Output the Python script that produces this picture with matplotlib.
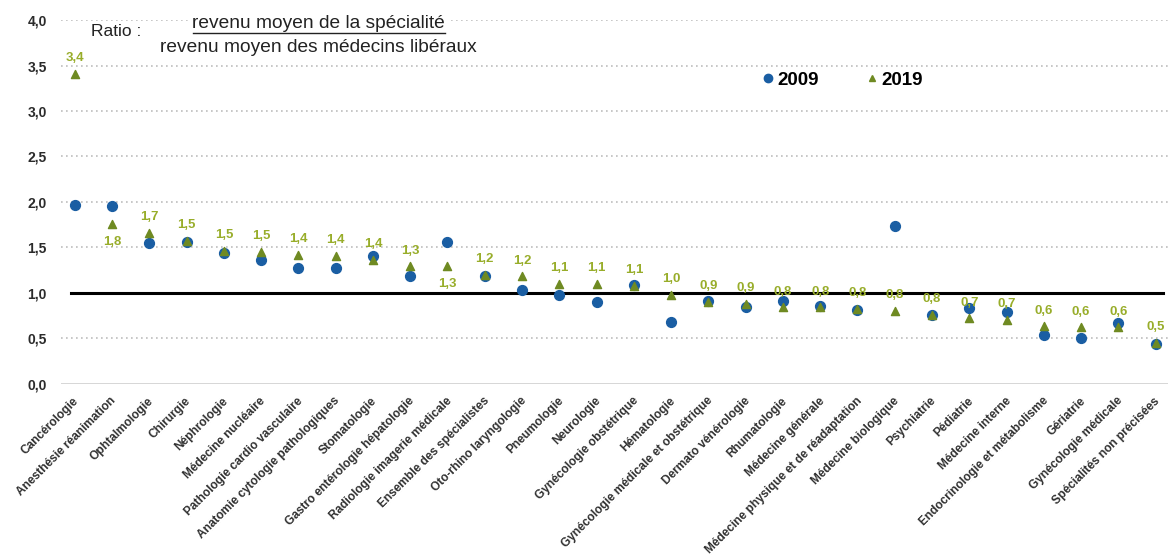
import matplotlib.pyplot as plt
import numpy as np
from matplotlib.lines import Line2D

plt.rcParams["font.family"] = ["Liberation Sans", "DejaVu Sans"]

specialites = [
    "Cancérologie", "Anesthésie réanimation", "Ophtalmologie", "Chirurgie",
    "Néphrologie", "Médecine nucléaire", "Pathologie cardio vasculaire",
    "Anatomie cytologie pathologiques", "Stomatologie",
    "Gastro entérologie hépatologie", "Radiologie imagerie médicale",
    "Ensemble des spécialistes", "Oto-rhino laryngologie", "Pneumologie",
    "Neurologie", "Gynécologie obstétrique", "Hématologie",
    "Gynécologie médicale et obstétrique", "Dermato vénérologie",
    "Rhumatologie", "Médecine générale",
    "Médecine physique et de réadaptation", "Médecine biologique",
    "Psychiatrie", "Pédiatrie", "Médecine interne",
    "Endocrinologie et métabolisme", "Gériatrie", "Gynécologie médicale",
    "Spécialités non précisées",
]
ratio_2009 = [1.97, 1.95, 1.55, 1.56, 1.44, 1.36, 1.27, 1.27, 1.40, 1.19,
              1.56, 1.19, 1.03, 0.98, 0.90, 1.09, 0.68, 0.91, 0.84, 0.91,
              0.85, 0.81, 1.74, 0.76, 0.83, 0.79, 0.54, 0.50, 0.67, 0.44]
ratio_2019 = [3.41, 1.76, 1.66, 1.57, 1.46, 1.45, 1.42, 1.41, 1.36, 1.29,
              1.30, 1.20, 1.18, 1.10, 1.10, 1.08, 0.98, 0.90, 0.88, 0.84,
              0.84, 0.82, 0.80, 0.76, 0.72, 0.70, 0.63, 0.62, 0.62, 0.45]
labels_2019 = ["3,4", "1,8", "1,7", "1,5", "1,5", "1,5", "1,4", "1,4", "1,4",
               "1,3", "1,3", "1,2", "1,2", "1,1", "1,1", "1,1", "1,0", "0,9",
               "0,9", "0,8", "0,8", "0,8", "0,8", "0,8", "0,7", "0,7", "0,6",
               "0,6", "0,6", "0,5"]
label_below = ["Anesthésie réanimation", "Radiologie imagerie médicale"]

blue = "#1a5ea3"
olive = "#6f8a22"
label_green = "#98ad2a"

fig = plt.figure(figsize=(11.68, 5.57), dpi=100)
ax = fig.add_axes([0.052, 0.311, 0.948, 0.653])
x = np.arange(len(specialites))

# grille pointillée
for v in [0.5, 1.5, 2.0, 2.5, 3.0, 3.5, 4.0]:
    ax.axhline(v, color="#bdbdbd", lw=1.2, ls=(0, (1, 2.0)), zorder=0)
ax.axhline(0.0, color="#cfcfcf", lw=1.2, zorder=0)
ax.plot([-0.1, 29.2], [1.0, 1.0], color="black", lw=2.2, zorder=1)

ax.scatter(x, ratio_2009, s=50, color=blue, marker="o", zorder=3)
ax.scatter(x, ratio_2019, s=34, color=olive, marker="^", zorder=4)

for i, (v, lab) in enumerate(zip(ratio_2019, labels_2019)):
    if specialites[i] in label_below:
        ax.annotate(lab, (i, v), xytext=(0, -9), textcoords="offset points",
                    ha="center", va="top", fontsize=9.5, fontweight="bold",
                    color=label_green, zorder=5)
    else:
        ax.annotate(lab, (i, v), xytext=(0, 7), textcoords="offset points",
                    ha="center", va="bottom", fontsize=9.5, fontweight="bold",
                    color=label_green, zorder=5)

ax.set_xlim(-0.375, 29.33)
ax.set_ylim(0, 4.0)
ax.set_yticks(np.arange(0, 4.01, 0.5))
ax.set_yticklabels([f"{t:.1f}".replace(".", ",") for t in np.arange(0, 4.01, 0.5)],
                   fontsize=10, fontweight="bold", color="#2b2b2b")
ax.set_xticks(x - 0.05)
ax.set_xticklabels(specialites, rotation=45, ha="right", va="top",
                   rotation_mode="anchor", fontsize=8.6, fontweight="bold",
                   color="#303030")
ax.tick_params(axis="both", length=0)
ax.tick_params(axis="y", pad=10)
ax.tick_params(axis="x", pad=8)
for s in ax.spines.values():
    s.set_visible(False)

# titre du ratio
fig.text(0.078, 0.944, "Ratio :", fontsize=12.5, color="#222222",
         ha="left", va="center",
         bbox=dict(facecolor="white", edgecolor="none", pad=2))
fig.text(0.273, 0.957, "revenu moyen de la spécialité", fontsize=13.8,
         color="#222222", ha="center", va="center",
         bbox=dict(facecolor="white", edgecolor="none", pad=3))
fig.text(0.273, 0.915, "revenu moyen des médecins libéraux", fontsize=13.8,
         color="#222222", ha="center", va="center",
         bbox=dict(facecolor="white", edgecolor="none", pad=3))
fig.add_artist(Line2D([0.165, 0.381], [0.940, 0.940], color="#222222",
                      lw=1.0, zorder=10))

handles = [
    Line2D([], [], marker="o", color=blue, ls="none", markersize=6),
    Line2D([], [], marker="^", color=olive, ls="none", markersize=4),
]
ax.legend(handles, ["2009", "2019"], ncol=2, frameon=False,
          loc="center left", bbox_to_anchor=(0.617, 0.835),
          handletextpad=0.1, columnspacing=2.4, handlelength=0.8,
          prop={"weight": "bold", "size": 13.5})

fig.savefig("out.png", dpi=100)
